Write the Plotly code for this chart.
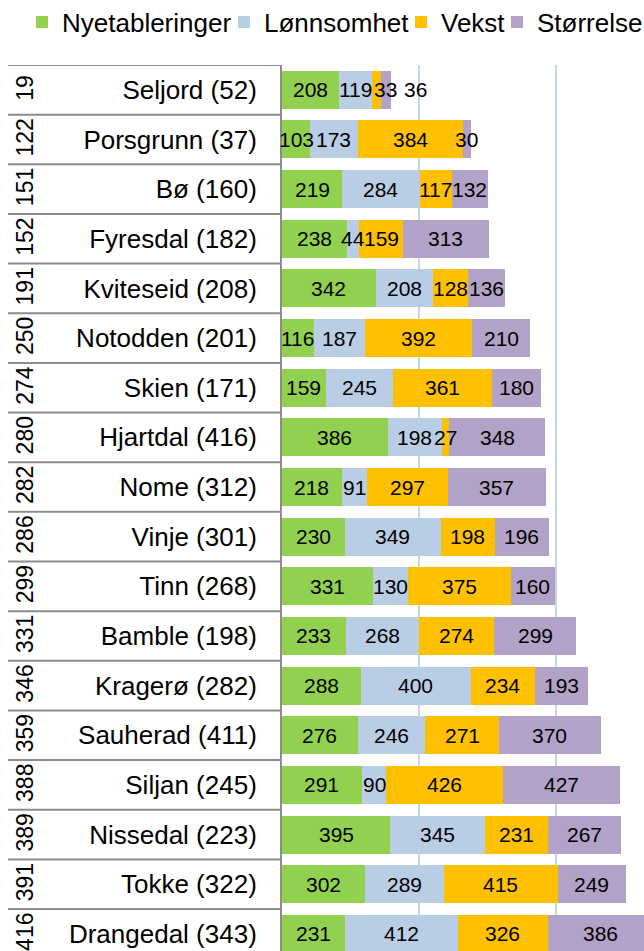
import numpy as np
import plotly.graph_objects as go

names = ["Seljord (52)", "Porsgrunn (37)", "Bø (160)", "Fyresdal (182)", "Kviteseid (208)",
         "Notodden (201)", "Skien (171)", "Hjartdal (416)", "Nome (312)", "Vinje (301)",
         "Tinn (268)", "Bamble (198)", "Kragerø (282)", "Sauherad (411)", "Siljan (245)",
         "Nissedal (223)", "Tokke (322)", "Drangedal (343)"]
ranks = ["19", "122", "151", "152", "191", "250", "274", "280", "282", "286",
         "299", "331", "346", "359", "388", "389", "391", "416"]
series_names = ["Nyetableringer", "Lønnsomhet", "Vekst", "Størrelse"]
nyetableringer = [208, 103, 219, 238, 342, 116, 159, 386, 218, 230, 331, 233, 288, 276, 291, 395, 302, 231]
lonnsomhet = [119, 173, 284, 44, 208, 187, 245, 198, 91, 349, 130, 268, 400, 246, 90, 345, 289, 412]
vekst = [33, 384, 117, 159, 128, 392, 361, 27, 297, 198, 375, 274, 234, 271, 426, 231, 415, 326]
storrelse = [36, 30, 132, 313, 136, 210, 180, 348, 357, 196, 160, 299, 193, 370, 427, 267, 249, 386]

colors = ["#92D050", "#B9CDE5", "#FFC000", "#B3A2C7"]
FONT = "Arial, Liberation Sans, sans-serif"

W, H = 644, 951
ML, MT = 282, 65
PW = W - ML
ROW = 49.65

values = [nyetableringer, lonnsomhet, vekst, storrelse]
fig = go.Figure()
legend_ids = ["legend", "legend2", "legend3", "legend4"]
for s, (nm, vals, c) in enumerate(zip(series_names, values, colors)):
    fig.add_trace(go.Bar(
        x=vals, y=names, orientation="h", name=nm,
        marker=dict(color=c, line=dict(width=0)),
        legend=legend_ids[s], hoverinfo="x+name",
    ))

# data labels
arr = np.array(values, dtype=float)
cum = np.cumsum(arr, axis=0)
starts = cum - arr
centers = starts + arr / 2
# manual label offsets (px) as in the original (Seljord small segments)
xshift = np.zeros_like(arr)
xshift[2, 0] = 9
xshift[3, 0] = 30
annotations = []
for s in range(arr.shape[0]):
    for i in range(arr.shape[1]):
        annotations.append(dict(
            x=centers[s, i], y=names[i], xref="x", yref="y",
            text=str(int(arr[s, i])), showarrow=False,
            font=dict(family=FONT, size=21, color="black"),
            xanchor="center", yanchor="middle", xshift=float(xshift[s, i]),
        ))

# rank labels (outer category level)
for i, r in enumerate(ranks):
    annotations.append(dict(
        x=(25 - ML) / PW, y=names[i], xref="paper", yref="y",
        text=r, showarrow=False, textangle=-90,
        font=dict(family=FONT, size=23, color="black"),
        xanchor="center", yanchor="middle", yshift=2,
    ))

# separator lines of multi-level category axis
shapes = []
for k in range(len(names) + 1):
    shapes.append(dict(
        type="line", xref="paper", yref="y",
        x0=(8 - ML) / PW, x1=0, y0=k - 0.5, y1=k - 0.5,
        line=dict(color="#8C8C8C", width=2),
    ))

# legends placed individually
leg_text_x = [62, 264, 441, 537]
legends = {}
for s, lid in enumerate(legend_ids):
    legends[lid] = dict(
        x=(leg_text_x[s] - 40) / W, y=1 - 22 / H, xref="container", yref="container",
        xanchor="left", yanchor="middle", orientation="h",
        font=dict(family=FONT, size=26, color="black"),
        bgcolor="rgba(0,0,0,0)", borderwidth=0,
    )

fig.update_layout(
    width=W, height=H,
    margin=dict(l=ML, r=0, t=MT, b=0, pad=0, autoexpand=False),
    barmode="stack", bargap=0.235,
    plot_bgcolor="white", paper_bgcolor="white",
    font=dict(family=FONT, color="black"),
    showlegend=True,
    annotations=annotations, shapes=shapes,
    xaxis=dict(range=[0, PW / 0.274], dtick=500, tick0=0, showgrid=True,
               gridcolor="#C6D6EA", gridwidth=1.5, zeroline=False,
               showticklabels=False, showline=False, fixedrange=True),
    yaxis=dict(type="category", categoryorder="array", categoryarray=names,
               range=[(H - MT) / ROW - 0.5, -0.5],
               showline=True, linecolor="#8C8C8C", linewidth=2,
               ticks="", ticklabelstandoff=18,
               tickfont=dict(family=FONT, size=26, color="black"),
               showgrid=False, zeroline=False, fixedrange=True),
    **legends,
)

fig.write_html("out.html", config={"displayModeBar": False},
               post_script="document.body.style.margin='0';")
